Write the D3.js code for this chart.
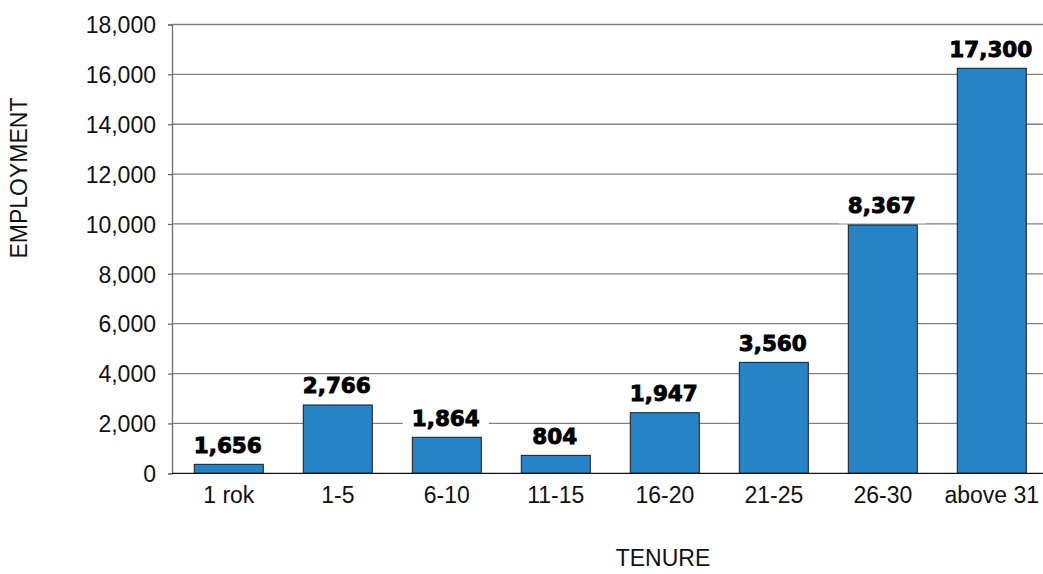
<!DOCTYPE html>
<html>
<head>
<meta charset="utf-8">
<script src="https://cdn.jsdelivr.net/npm/d3@7"></script>
<style>
  html, body { margin: 0; padding: 0; background: #ffffff; }
  svg { display: block; }
</style>
</head>
<body>
<script>
// Employment by tenure band
const categories = ["1 rok", "1-5", "6-10", "11-15", "16-20", "21-25", "26-30", "above 31"];
const barValues = [360, 2740, 1445, 720, 2430, 4450, 9960, 16245];
const reportedLabels = ["1,656", "2,766", "1,864", "804", "1,947", "3,560", "8,367", "17,300"];
const yTicks = [0, 2000, 4000, 6000, 8000, 10000, 12000, 14000, 16000, 18000];
const yTitle = "EMPLOYMENT";
const xTitle = "TENURE";

const W = 1043, H = 574;
const plot = { left: 172, right: 1043, top: 24.5, bottom: 473.3 };

const svg = d3.select("body").append("svg")
  .attr("width", W).attr("height", H);

const y = d3.scaleLinear().domain([0, 18000]).range([plot.bottom, plot.top]);
const x = d3.scaleBand().domain(categories)
  .range([174.3, 1046.3])
  .paddingInner(0.367).paddingOuter(0.1835);

const tickFont = "'Liberation Sans', Arial, sans-serif";

// horizontal gridlines
svg.append("g").selectAll("line")
  .data(yTicks.filter(d => d > 0))
  .join("line")
  .attr("x1", plot.left).attr("x2", plot.right)
  .attr("y1", d => y(d)).attr("y2", d => y(d))
  .attr("stroke", "#808080").attr("stroke-width", 1.3);

// y axis
const yAxis = d3.axisLeft(y).tickValues(yTicks).tickSize(4).tickPadding(12)
  .tickFormat(d3.format(","));
const gy = svg.append("g").attr("transform", `translate(${plot.left},0)`).call(yAxis);
gy.select(".domain").attr("stroke", "#6e6e6e").attr("stroke-width", 1.3);
gy.selectAll(".tick line").attr("stroke", "#6e6e6e").attr("stroke-width", 1.3);
gy.selectAll(".tick text")
  .attr("font-family", tickFont).attr("font-size", 23).attr("fill", "#111")
  .attr("dy", "0.36em");

// white boxes behind the value labels
const labelGap = 11.5;
const labelFont = "'DejaVu Sans', sans-serif";
const labelData = categories.map((c, i) => ({ c, v: barValues[i], t: reportedLabels[i] }));

const boxes = svg.append("g");

// bars
svg.append("g").selectAll("rect")
  .data(labelData)
  .join("rect")
  .attr("x", d => x(d.c))
  .attr("width", x.bandwidth())
  .attr("y", d => y(d.v))
  .attr("height", d => y(0) - y(d.v))
  .attr("fill", "#2683c6")
  .attr("stroke", "#1a1a1a").attr("stroke-width", 1);

// x axis baseline
svg.append("line")
  .attr("x1", plot.left).attr("x2", plot.right)
  .attr("y1", y(0)).attr("y2", y(0))
  .attr("stroke", "#111").attr("stroke-width", 1.3);

// category labels
const xAxis = d3.axisBottom(x).tickSize(0).tickPadding(13);
const gx = svg.append("g").attr("transform", `translate(0,${y(0)})`).call(xAxis);
gx.select(".domain").remove();
gx.selectAll(".tick text")
  .attr("font-family", tickFont).attr("font-size", 23).attr("fill", "#111");

// value labels, heavy weight
const labels = svg.append("g").selectAll("text")
  .data(labelData)
  .join("text")
  .attr("x", d => x(d.c) + x.bandwidth() / 2 - 1)
  .attr("y", d => y(d.v) - labelGap)
  .attr("text-anchor", "middle")
  .attr("font-family", labelFont).attr("font-weight", "bold")
  .attr("font-size", 21.5).attr("fill", "#000")
  .attr("stroke", "#000").attr("stroke-width", 0.9)
  .text(d => d.t);

labels.each(function (d) {
  const b = this.getBBox();
  const base = y(d.v) - labelGap;
  boxes.append("rect")
    .attr("x", b.x - 9).attr("width", b.width + 18)
    .attr("y", base - 18).attr("height", 28)
    .attr("fill", "#ffffff");
});

// axis titles
svg.append("text")
  .attr("transform", "translate(27,178) rotate(-90)")
  .attr("text-anchor", "middle")
  .attr("font-family", tickFont).attr("font-size", 23).attr("fill", "#111")
  .text(yTitle);

svg.append("text")
  .attr("x", 663).attr("y", 566)
  .attr("text-anchor", "middle")
  .attr("font-family", tickFont).attr("font-size", 23).attr("fill", "#111")
  .text(xTitle);
</script>
</body>
</html>
